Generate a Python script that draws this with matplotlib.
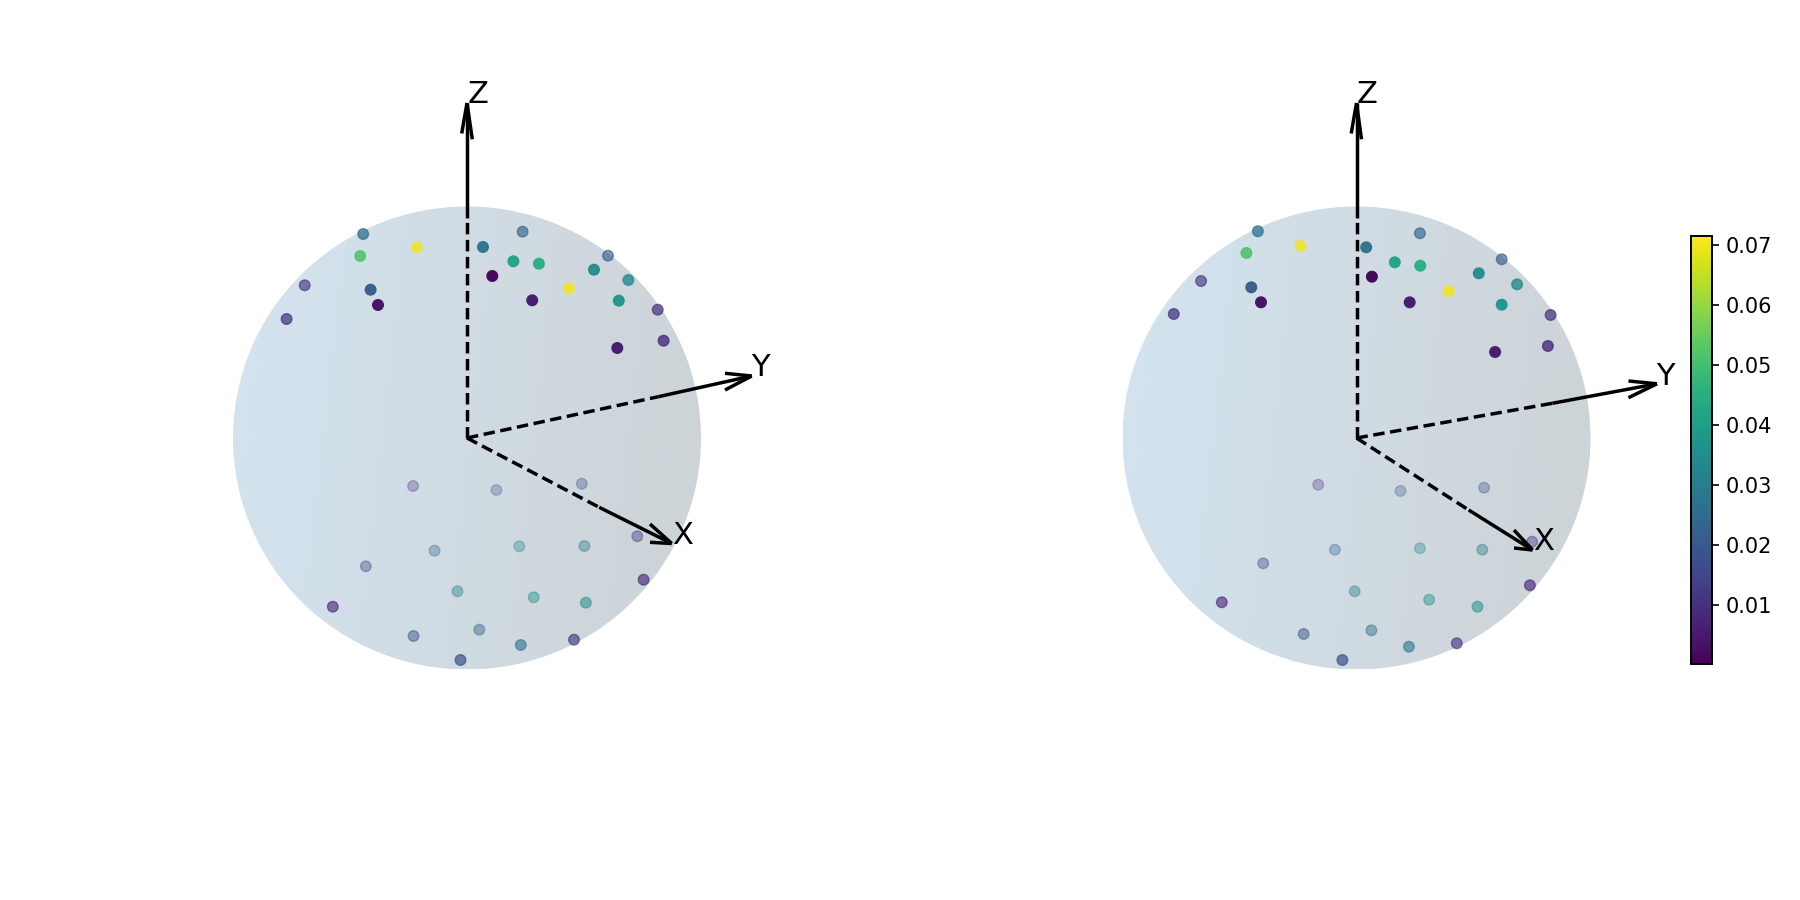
import matplotlib
matplotlib.use('Agg')
import matplotlib.pyplot as plt
import numpy as np
from matplotlib.cm import ScalarMappable
from matplotlib.colors import LinearSegmentedColormap, Normalize
from matplotlib.patches import Ellipse

# Points, in picture pixels (same order in both panels)
x_left = [363.2, 360.2, 416.8, 483.0, 522.6, 513.4, 538.9, 492.3, 594.0, 608.0, 628.4, 568.9, 532.2,
          618.8, 657.7, 663.6, 617.3, 304.7, 370.6, 378.0, 286.6,
          413.1, 496.4, 581.8, 637.3, 434.6, 519.3, 584.4, 365.8, 643.6, 457.5, 533.7, 585.9,
          332.8, 413.5, 479.3, 520.8, 574.0, 460.5]
y_left = [234.0, 256.0, 247.3, 247.0, 231.7, 261.3, 263.7, 276.0, 269.7, 255.7, 280.0, 288.3, 300.3,
          300.7, 309.7, 340.7, 348.0, 285.3, 289.7, 305.0, 319.0,
          486.0, 490.0, 483.7, 536.3, 550.7, 546.3, 546.0, 566.3, 579.7, 591.3, 597.3, 602.7,
          606.7, 636.0, 629.7, 645.0, 639.7, 660.0]
x_right = [1257.9, 1246.4, 1300.6, 1366.2, 1419.9, 1394.8, 1420.3, 1371.9, 1478.8, 1501.7, 1517.1, 1448.9, 1409.7,
           1501.7, 1550.6, 1547.9, 1495.1, 1201.1, 1251.3, 1261.0, 1173.8,
           1318.2, 1400.5, 1484.1, 1532.1, 1334.9, 1419.9, 1482.3, 1263.2, 1529.9, 1354.7, 1429.1, 1477.5,
           1221.8, 1303.7, 1371.4, 1408.9, 1456.8, 1342.4]
y_right = [231.3, 253.0, 246.0, 247.3, 233.3, 262.3, 265.7, 276.7, 273.3, 259.3, 284.3, 291.0, 302.3,
           304.7, 315.0, 346.0, 352.0, 281.0, 287.3, 302.3, 314.0,
           484.7, 491.0, 487.7, 541.7, 549.7, 548.3, 549.7, 563.3, 585.3, 591.3, 599.7, 606.7,
           602.3, 634.0, 630.3, 646.7, 643.3, 660.0]
values = [0.027, 0.051, 0.070, 0.027, 0.022, 0.041, 0.045, 0.002, 0.034, 0.021, 0.034, 0.070, 0.006,
          0.037, 0.010, 0.009, 0.006, 0.011, 0.020, 0.004, 0.012,
          0.010, 0.019, 0.018, 0.014, 0.024, 0.033, 0.029, 0.015, 0.008, 0.030, 0.037, 0.037,
          0.006, 0.019, 0.024, 0.028, 0.012, 0.018]
depth_alpha = [0.75, 0.85, 0.8, 0.95, 0.65, 0.95, 0.95, 1.0, 0.95, 0.65, 0.8, 0.85, 1.0,
               0.95, 0.7, 0.8, 1.0, 0.65, 0.95, 1.0, 0.75,
               0.3, 0.3, 0.35, 0.45, 0.35, 0.35, 0.4, 0.4, 0.65, 0.4, 0.45, 0.55,
               0.6, 0.5, 0.45, 0.6, 0.65, 0.7]
cbar_ticks = [0.01, 0.02, 0.03, 0.04, 0.05, 0.06, 0.07]
v_min, v_max = 0.0001, 0.0716

# Axis arrows of each panel: tip, start of the solid part, head barbs, label corner
axes_left = {
    'Z': dict(tip=(467, 103), solid=(467, 218), barbs=[(461.7, 133.5), (472.3, 139.3)], label=(467.5, 103)),
    'Y': dict(tip=(751.7, 376), solid=(658.4, 396.7), barbs=[(725, 373.3), (725, 390)], label=(751, 376)),
    'X': dict(tip=(671.7, 543.5), solid=(599.2, 507.3), barbs=[(650, 524), (650, 542.3)], label=(672, 544)),
}
axes_right = {
    'Z': dict(tip=(1356.5, 103), solid=(1356.5, 218), barbs=[(1351.2, 133.5), (1361.5, 139.3)], label=(1356.5, 103)),
    'Y': dict(tip=(1657, 383.8), solid=(1552.3, 403.3), barbs=[(1628.5, 381), (1628.5, 397.7)], label=(1656, 385)),
    'X': dict(tip=(1532.5, 550), solid=(1468.7, 510), barbs=[(1514, 530), (1514, 548)], label=(1533.5, 550)),
}

shade = LinearSegmentedColormap.from_list('shade', ['#d3e4f0', '#d0dbe3', '#cdd3d6'])
norm = Normalize(v_min, v_max)


def draw_panel(ax, xs, ys, arrows, cx, cy=438.0, rx=234.0, ry=231.5):
    # Sphere, lit from the left
    nx, ny = np.meshgrid(np.linspace(-1, 1, 256), np.linspace(-1, 1, 256))
    grad = 0.5 + 0.45 * nx + 0.05 * ny
    im = ax.imshow(grad, cmap=shade, vmin=0, vmax=1, extent=(cx - rx, cx + rx, cy + ry, cy - ry),
                   aspect='auto', zorder=1)
    clip = Ellipse((cx, cy), 2 * rx, 2 * ry, transform=ax.transData, facecolor='none', edgecolor='none')
    ax.add_patch(clip)
    im.set_clip_path(clip)

    # Points
    ax.scatter(xs, ys, c=values, cmap='viridis', norm=norm, s=58, alpha=depth_alpha, zorder=2)

    # Axes arrows, dashed inside the sphere and solid outside
    for name, arr in arrows.items():
        ax.plot([cx, arr['solid'][0]], [cy, arr['solid'][1]], color='k', lw=2.5, ls=(0, (3.3, 1.6)), zorder=3)
        ax.plot([arr['solid'][0], arr['tip'][0]], [arr['solid'][1], arr['tip'][1]], color='k', lw=2.5,
                solid_capstyle='butt', zorder=3)
        for barb in arr['barbs']:
            ax.plot([barb[0], arr['tip'][0]], [barb[1], arr['tip'][1]], color='k', lw=2.5,
                    solid_capstyle='butt', zorder=3)
        ax.text(arr['label'][0], arr['label'][1], name, fontsize=22, ha='left', va='baseline', zorder=4)


fig = plt.figure(figsize=(18, 9), dpi=100)
ax1 = fig.add_axes([0, 0, 0.5, 1])
ax2 = fig.add_axes([0.5, 0, 0.5, 1])
draw_panel(ax1, x_left, y_left, axes_left, cx=467.0)
draw_panel(ax2, x_right, y_right, axes_right, cx=1356.5)
ax1.set_xlim(0, 900)
ax2.set_xlim(900, 1800)
for ax in (ax1, ax2):
    ax.set_ylim(900, 0)
    ax.axis('off')

# Colorbar
cax = fig.add_axes([1691 / 1800, 1 - 664.3 / 900, 21 / 1800, 428.6 / 900])
cbar = fig.colorbar(ScalarMappable(norm=norm, cmap='viridis'), cax=cax)
cbar.set_ticks(cbar_ticks)
cbar.ax.tick_params(labelsize=15, length=4.8, width=1.2, pad=5)
cbar.outline.set_linewidth(1.4)

plt.savefig('out.png', dpi=100)
plt.close()
